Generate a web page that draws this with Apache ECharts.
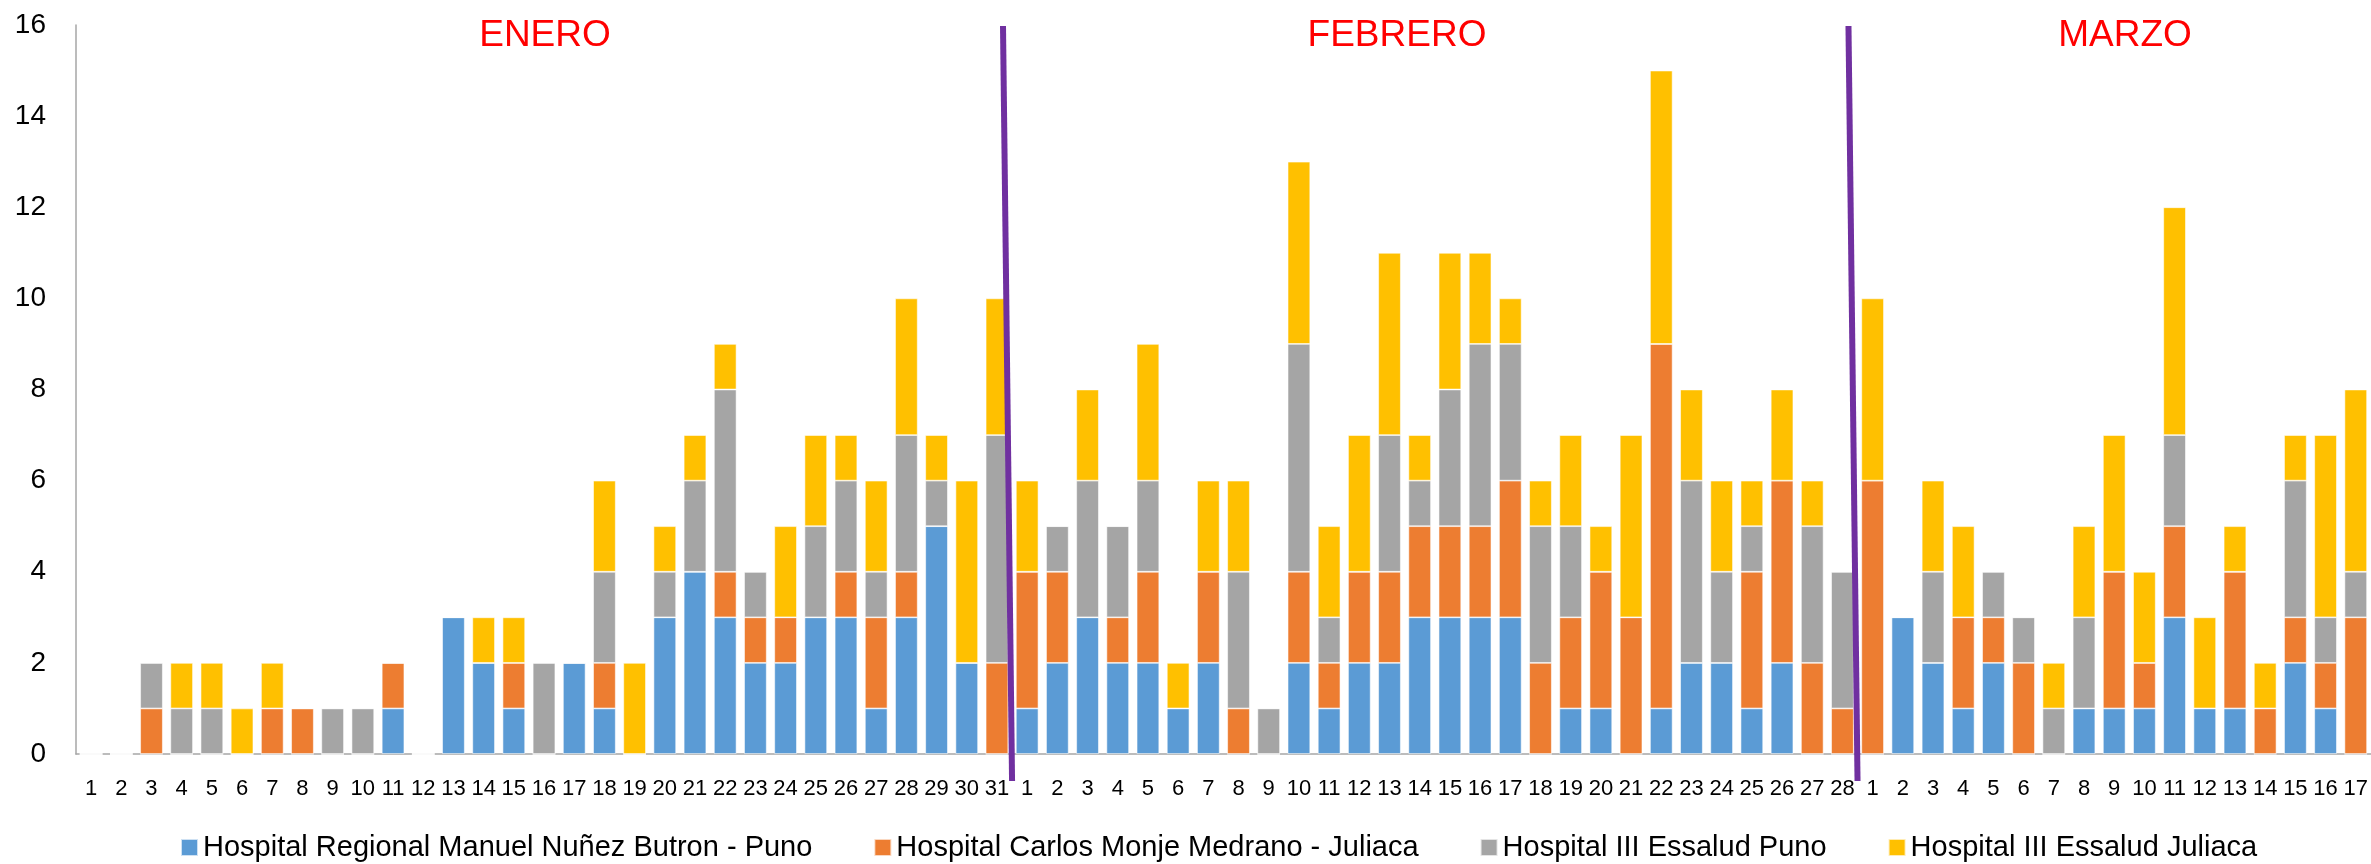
<!DOCTYPE html>
<html>
<head>
<meta charset="utf-8">
<script src="https://cdn.jsdelivr.net/npm/echarts@6/dist/echarts.min.js"></script>
<style>
html,body{margin:0;padding:0;background:#fff;}
#chart{width:2371px;height:864px;}
</style>
</head>
<body>
<div id="chart"></div>
<script>
// Day labels: January 1-31, February 1-28, March 1-17
const janDays = Array.from({length:31},(_,i)=>String(i+1));
const febDays = Array.from({length:28},(_,i)=>String(i+1));
const marDays = Array.from({length:17},(_,i)=>String(i+1));
const categories = janDays.concat(febDays, marDays);

const seriesNames = [
  'Hospital Regional Manuel Nuñez Butron - Puno',
  'Hospital Carlos Monje Medrano - Juliaca',
  'Hospital III Essalud Puno',
  'Hospital III Essalud Juliaca'
];

const regionalPuno = [
  0,0,0,0,0,0,0,0,0,0, 1,0,3,2,1,0,2,1,0,3, 4,3,2,2,3,3,1,3,5,2, 0,
  1,2,3,2,2,1,2,0,0,2, 1,2,2,3,3,3,3,0,1,1, 0,1,2,2,1,2,0,0,
  0,3,2,1,2,0,0,1,1,1, 3,1,1,0,2,1,0
];
const monjeJuliaca = [
  0,0,1,0,0,0,1,1,0,0, 1,0,0,0,1,0,0,1,0,0, 0,1,1,1,0,1,2,1,0,0, 2,
  3,2,0,1,2,0,2,1,0,2, 1,2,2,2,2,2,3,2,2,3, 3,8,0,0,3,4,2,1,
  6,0,0,2,1,2,0,0,3,1, 2,0,3,1,1,1,3
];
const essaludPuno = [
  0,0,1,1,1,0,0,0,1,1, 0,0,0,0,0,2,0,2,0,1, 2,4,1,0,2,2,1,3,1,0, 5,
  0,1,3,2,2,0,0,3,1,5, 1,0,3,1,3,4,3,3,2,0, 0,0,4,2,1,0,3,3,
  0,0,2,0,1,1,1,2,0,0, 2,0,0,0,3,1,1
];
const essaludJuliaca = [
  0,0,0,1,1,1,1,0,0,0, 0,0,0,1,1,0,0,2,2,1, 1,1,0,2,2,1,2,3,1,4, 3,
  2,0,2,0,3,1,2,2,0,4, 2,3,4,1,3,2,1,1,2,1, 4,6,2,2,1,2,1,0,
  4,0,2,2,0,0,1,2,3,2, 5,2,1,1,1,4,4
];

const monthNames = ['ENERO','FEBRERO','MARZO'];
// month divider: category index of last day of the month
const dividerAfter = [30, 58];

const colors = ['#5B9BD5','#ED7D31','#A5A5A5','#FFC000'];
const FONT = '"Liberation Sans", Arial, sans-serif';

const chart = echarts.init(document.getElementById('chart'), null, {renderer:'canvas'});

const dataSets = [regionalPuno, monjeJuliaca, essaludPuno, essaludJuliaca];

const option = {
  animation:false,
  backgroundColor:'#fff',
  textStyle:{fontFamily:FONT},
  grid:{left:76,right:0,top:25,bottom:110,containLabel:false},
  legend:{
    data:seriesNames,
    left:175, top:828,
    itemWidth:17, itemHeight:17, itemGap:61,
    icon:'rect',
    textStyle:{fontSize:29,color:'#000',fontFamily:FONT}
  },
  xAxis:{
    type:'category',
    data:categories,
    axisTick:{show:false},
    axisLine:{lineStyle:{color:'#A6A6A6',width:1.5}},
    axisLabel:{interval:0,fontSize:22,color:'#000',margin:24,fontFamily:FONT},
    splitLine:{show:false}
  },
  yAxis:{
    type:'value',min:0,max:16,interval:2,
    axisLine:{show:true,lineStyle:{color:'#A6A6A6',width:1.5}},
    axisTick:{show:false},
    splitLine:{show:false},
    axisLabel:{fontSize:28,color:'#000',margin:30,fontFamily:FONT}
  },
  series: seriesNames.map((n,i)=>({
    name:n,
    type:'bar',
    stack:'total',
    barCategoryGap:'25%',
    data:dataSets[i],
    itemStyle:{color:colors[i],borderColor:'rgba(255,255,255,0.7)',borderWidth:0.8}
  }))
};
chart.setOption(option);

// Build month dividers and titles from axis positions
function xAt(idx){
  const a = chart.convertToPixel({xAxisIndex:0}, Math.floor(idx));
  const b = chart.convertToPixel({xAxisIndex:0}, Math.floor(idx)+1);
  return a + (b-a)*(idx-Math.floor(idx));
}
const yTop = chart.convertToPixel({yAxisIndex:0}, 16);
const yBottom = chart.convertToPixel({yAxisIndex:0}, 0) + 27;

const graphics = [];
dividerAfter.forEach(d=>{
  graphics.push({
    type:'line', z:100,
    shape:{x1:xAt(d+0.2), y1:yTop+1, x2:xAt(d+0.5), y2:yBottom},
    style:{stroke:'#7030A0', lineWidth:6}
  });
});
const titleCenters = [545, 1397, 2125];
monthNames.forEach((m,i)=>{
  graphics.push({
    type:'text', z:100,
    x:titleCenters[i], y:36,
    style:{text:m, fill:'#FF0000', font:'37px ' + FONT, textAlign:'center', textVerticalAlign:'middle'}
  });
});
chart.setOption({graphic:graphics});
</script>
</body>
</html>
